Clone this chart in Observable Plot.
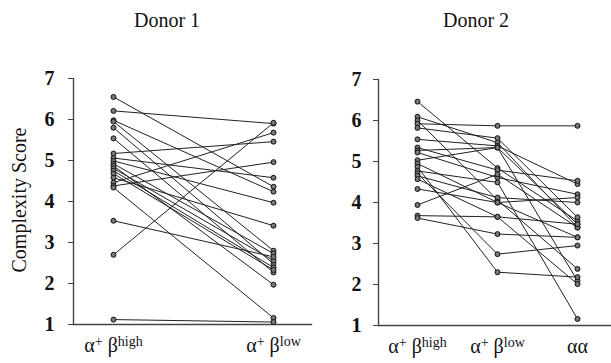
<!DOCTYPE html>
<html><head><meta charset="utf-8">
<script src="https://cdn.jsdelivr.net/npm/d3@7"></script>
<script src="https://cdn.jsdelivr.net/npm/@observablehq/plot@0.6"></script>
<style>
body{margin:0;background:#fff;}
#wrap{position:relative;width:611px;height:363px;font-family:"Liberation Serif",serif;color:#111;overflow:hidden;}
.title{position:absolute;top:9px;font-size:20px;transform:translateX(-50%);white-space:nowrap;}
.ylab{position:absolute;left:19px;top:200px;font-size:20px;transform:translate(-50%,-50%) rotate(-90deg);white-space:nowrap;}
.panel{position:absolute;top:0;}
.panel svg{overflow:visible;}
.panel svg text{font-family:"Liberation Serif",serif !important;fill:#111;}
.panel svg g[aria-label='y-axis tick label'] text{font-weight:bold;font-size:20px;}
</style>
</head><body>
<div id="wrap">
  <div class="title" style="left:167px">Donor 1</div>
  <div class="title" style="left:476px">Donor 2</div>
  <div class="ylab">Complexity Score</div>
  <div class="panel" id="p1" style="left:0px"></div>
  <div class="panel" id="p2" style="left:320px"></div>
</div>
<script>
// ---- data ----
const yTicks = [1, 2, 3, 4, 5, 6, 7];
const donor1Categories = ["a+bhigh", "a+blow"];
const donor1High = [6.55, 6.21, 5.98, 5.95, 5.80, 5.54, 5.17, 5.06, 4.99, 4.92, 4.87, 4.81, 4.75, 4.68, 4.58, 4.46, 4.38, 4.34, 3.53, 2.70, 1.12];
const donor1Low  = [4.36, 5.90, 4.24, 2.80, 2.48, 2.27, 5.46, 4.58, 3.97, 2.73, 1.97, 2.56, 2.39, 2.33, 3.41, 5.68, 4.96, 1.16, 2.65, 5.92, 1.06];

const donor2Categories = ["a+bhigh", "a+blow", "aa"];
const donor2High = [6.46, 6.09, 6.00, 5.92, 5.82, 5.54, 5.34, 5.27, 5.22, 5.03, 4.95, 4.87, 4.77, 4.71, 4.65, 4.57, 4.33, 3.94, 3.68, 3.62];
const donor2Low  = [4.84, 5.46, 4.06, 5.87, 5.57, 5.38, 4.79, 5.34, 4.61, 5.34, 4.00, 2.30, 4.49, 2.74, 4.12, 3.65, 4.00, 4.69, 3.65, 3.23];
const donor2AA   = [3.55, 3.39, 2.38, 5.87, 3.64, 4.45, 4.53, 2.09, 4.20, 3.47, 4.12, 2.18, 1.16, 2.95, 4.00, 2.01, 3.15, 3.39, 3.47, 3.15];

// label pieces: [text, isSuperscript]
const categoryLabels = {
  "a+bhigh": [["α", false], ["+", true], [" β", false], ["high", true]],
  "a+blow":  [["α", false], ["+", true], [" β", false], ["low", true]],
  "aa":      [["αα", false]]
};

// ---- build rows ----
function rowsFrom(cats, cols) {
  const rows = [];
  cols[0].forEach((_, i) => cats.forEach((c, j) => rows.push({id: i, cat: c, value: cols[j][i]})));
  return rows;
}
const rows1 = rowsFrom(donor1Categories, [donor1High, donor1Low]);
const rows2 = rowsFrom(donor2Categories, [donor2High, donor2Low, donor2AA]);

function panel(rows, cats, opts) {
  const svg = Plot.plot({
    width: opts.width, height: 363,
    marginLeft: opts.marginLeft, marginRight: opts.marginRight,
    marginTop: opts.marginTop, marginBottom: opts.marginBottom,
    style: {fontFamily: "Liberation Serif, serif", fontSize: "18px", color: "#111", background: "transparent"},
    x: {type: "point", domain: cats, range: opts.xRange, padding: 0, label: null},
    y: {domain: [1, 7], label: null},
    marks: [
      Plot.frame({anchor: "left", stroke: "#444", strokeWidth: 1.4}),
      Plot.frame({anchor: "bottom", stroke: "#444", strokeWidth: 1.4}),
      Plot.axisY({ticks: yTicks, tickSize: 5, tickPadding: opts.tickPad, tickFormat: "d", label: null, stroke: "#444"}),
      Plot.axisX({tickSize: 0, tickPadding: 15, label: null, tickFormat: d => d}),
      Plot.line(rows, {x: "cat", y: "value", z: "id", stroke: "#222", strokeWidth: 1}),
      Plot.dot(rows, {x: "cat", y: "value", r: 2.5, fill: "#777", stroke: "#111", strokeWidth: 1})
    ]
  });
  // superscript formatting of the category tick labels
  d3.select(svg).selectAll("g[aria-label='x-axis tick label'] text").each(function() {
    const t = d3.select(this);
    const key = t.text();
    const parts = categoryLabels[key];
    if (!parts) return;
    t.text(null);
    parts.forEach(([s, sup]) => {
      t.append("tspan").text(s)
        .attr("font-size", sup ? 14 : 20)
        .attr("baseline-shift", sup ? "45%" : null);
    });
  });
  return svg;
}

document.getElementById("p1").append(panel(rows1, donor1Categories,
  {width: 320, marginLeft: 73, marginRight: 9, marginTop: 78, marginBottom: 39, xRange: [113, 273], tickPad: 14}));
document.getElementById("p2").append(panel(rows2, donor2Categories,
  {width: 291, marginLeft: 58, marginRight: 0, marginTop: 79, marginBottom: 38, xRange: [97, 257], tickPad: 12}));
</script>
</body></html>
